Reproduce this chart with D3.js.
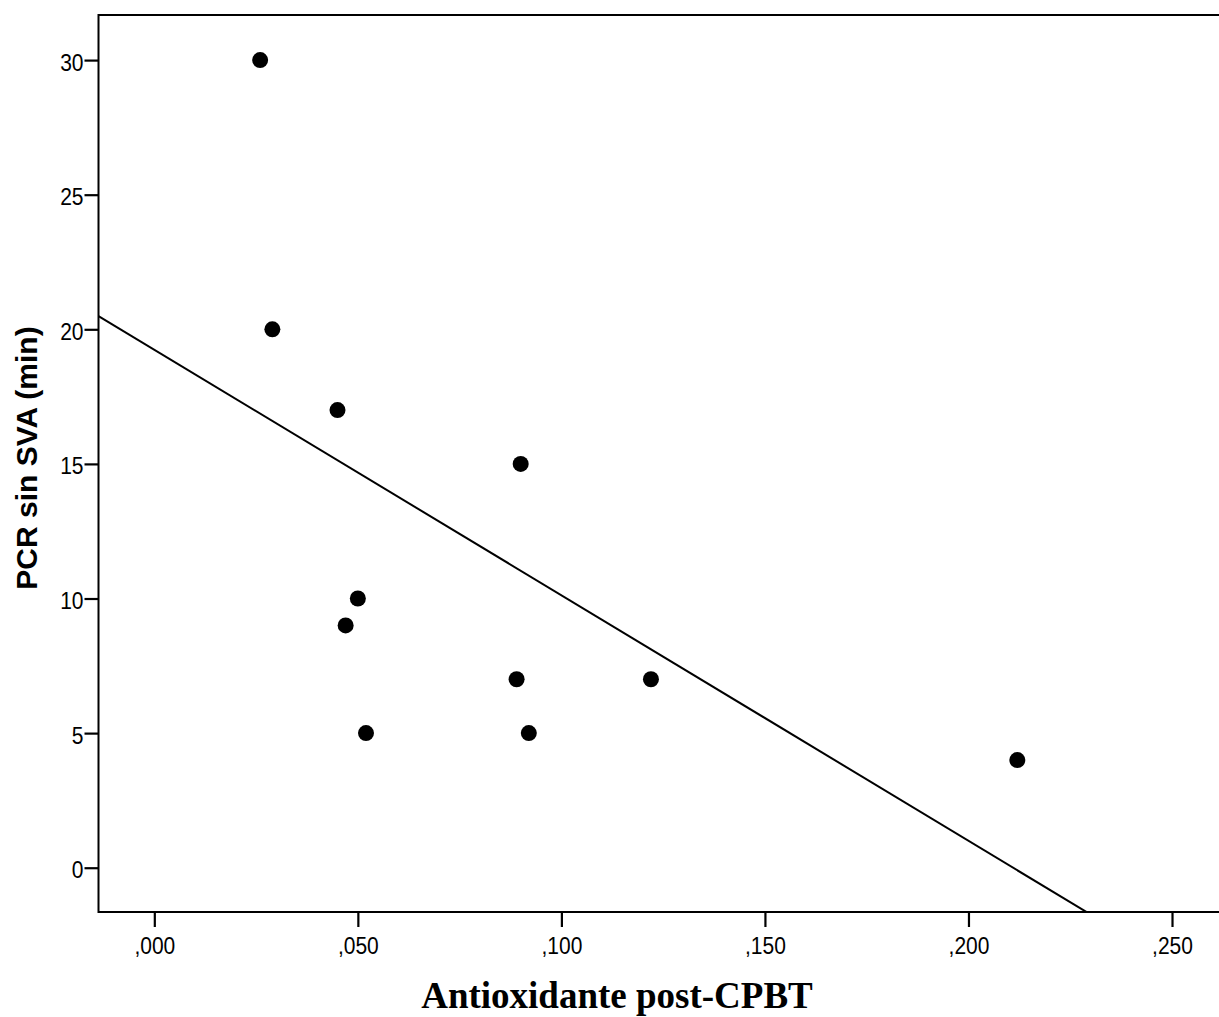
<!DOCTYPE html>
<html>
<head>
<meta charset="utf-8">
<script src="https://cdn.jsdelivr.net/npm/d3@7"></script>
<style>
  html, body { margin: 0; padding: 0; background: #fff; }
  svg { display: block; }
</style>
</head>
<body>
<svg id="chart" width="1219" height="1017"></svg>
<script>
// Antioxidant level after CPBT vs. PCR time without SVA (minutes)
const antioxidante = [0.026, 0.029, 0.045, 0.090, 0.050, 0.047, 0.089, 0.052, 0.092, 0.122, 0.212];
const pcrMin       = [30, 20, 17, 15, 10, 9, 7, 5, 5, 7, 4];

// Linear fit line: intercept and slope
const fitLine = [19.24, -91.2];

const xTicks = [0, 0.05, 0.10, 0.15, 0.20, 0.25];
const yTicks = [0, 5, 10, 15, 20, 25, 30];

const xTitle = "Antioxidante post-CPBT";
const yTitle = "PCR sin SVA (min)";

const svg = d3.select("#chart");
const plot = { left: 98.5, top: 15, right: 1222, bottom: 912 };

const x = d3.scaleLinear()
  .domain([-0.01371, 0.2625])
  .range([plot.left, plot.left + (0.2625 + 0.01371) * 4070.8]);
const y = d3.scaleLinear()
  .domain([-1.645, 31.675])
  .range([plot.bottom, plot.top]);

const fmtX = v => d3.format(".3f")(v).replace(/^0/, "").replace(".", ",");

// Clip for data marks
svg.append("clipPath").attr("id", "plotClip")
  .append("rect")
  .attr("x", plot.left).attr("y", plot.top)
  .attr("width", plot.right - plot.left).attr("height", plot.bottom - plot.top);

// Frame
svg.append("rect")
  .attr("x", plot.left).attr("y", plot.top)
  .attr("width", plot.right - plot.left).attr("height", plot.bottom - plot.top)
  .attr("fill", "none").attr("stroke", "#000").attr("stroke-width", 2);

// Axes
const yAxis = svg.append("g")
  .attr("transform", `translate(${plot.left},0)`)
  .call(d3.axisLeft(y).tickValues(yTicks).tickSize(14).tickPadding(1).tickFormat(d3.format("d")));
const xAxis = svg.append("g")
  .attr("transform", `translate(0,${plot.bottom})`)
  .call(d3.axisBottom(x).tickValues(xTicks).tickSize(15).tickPadding(5).tickFormat(fmtX));

[yAxis, xAxis].forEach(g => {
  g.select(".domain").remove();
  g.selectAll(".tick line").attr("stroke", "#000").attr("stroke-width", 2.2);
  g.selectAll(".tick text")
    .attr("fill", "#000")
    .style("font-family", "'Liberation Sans', Arial, sans-serif")
    .style("font-size", "21px");
});
// Tick labels are slightly taller than wide
yAxis.selectAll(".tick text").attr("dy", "0.42em").attr("transform", "scale(1,1.14)");
xAxis.selectAll(".tick text").attr("dy", "0.82em").attr("transform", "scale(1,1.14)");

// Fit line
const xd = x.domain();
svg.append("line")
  .attr("clip-path", "url(#plotClip)")
  .attr("x1", x(xd[0])).attr("y1", y(fitLine[0] + fitLine[1] * xd[0]))
  .attr("x2", x(xd[1])).attr("y2", y(fitLine[0] + fitLine[1] * xd[1]))
  .attr("stroke", "#000").attr("stroke-width", 2);

// Points
svg.append("g").attr("clip-path", "url(#plotClip)")
  .selectAll("circle")
  .data(antioxidante.map((a, i) => [a, pcrMin[i]]))
  .join("circle")
  .attr("cx", d => x(d[0]))
  .attr("cy", d => y(d[1]))
  .attr("r", 8)
  .attr("fill", "#000");

// Axis titles
svg.append("text")
  .attr("x", 617).attr("y", 1008)
  .attr("text-anchor", "middle")
  .style("font-family", "'Liberation Serif', 'Times New Roman', serif")
  .style("font-weight", "bold")
  .style("font-size", "37px")
  .attr("fill", "#000")
  .text(xTitle);

svg.append("text")
  .attr("transform", "translate(37,458) rotate(-90)")
  .attr("text-anchor", "middle")
  .style("font-family", "'Liberation Sans', Arial, sans-serif")
  .style("font-weight", "bold")
  .style("font-size", "30px")
  .attr("fill", "#000")
  .text(yTitle);
</script>
</body>
</html>
